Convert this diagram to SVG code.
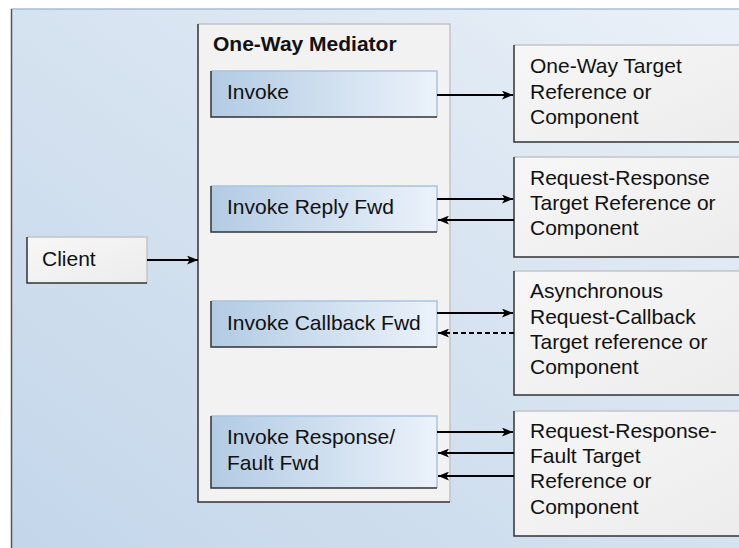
<svg xmlns="http://www.w3.org/2000/svg" width="739" height="548" viewBox="0 0 739 548">
<defs>
<linearGradient id="bg" x1="0" y1="1" x2="1" y2="0">
<stop offset="0" stop-color="#c3d6ea"/>
<stop offset="0.5" stop-color="#d5e2f0"/>
<stop offset="1" stop-color="#ebf1f8"/>
</linearGradient>
<linearGradient id="blue" x1="0" y1="0" x2="1" y2="0">
<stop offset="0" stop-color="#b2cbe4"/>
<stop offset="1" stop-color="#ebf2fa"/>
</linearGradient>
<linearGradient id="gray" x1="0" y1="0" x2="1" y2="1">
<stop offset="0" stop-color="#f7f7f7"/>
<stop offset="1" stop-color="#ececec"/>
</linearGradient>
<marker id="ah" viewBox="0 0 10 8" refX="10" refY="4" markerWidth="11" markerHeight="9" markerUnits="userSpaceOnUse" orient="auto">
<path d="M0,0 L10,4 L0,8 L2.5,4 Z" fill="#000"/>
</marker>
<style>
text{font-family:"Liberation Sans",Arial,sans-serif;font-size:21px;fill:#111}
.title{font-weight:bold}
.light{fill:none;stroke:#c4c4c4;stroke-width:1.5}
.lightb{fill:none;stroke:#a9c3df;stroke-width:1.5}
.dark{fill:none;stroke:#333;stroke-width:1.5}
.conn line{stroke:#000;stroke-width:1.8;marker-end:url(#ah)}
.dash{stroke-dasharray:5 3}
</style>
</defs>
<rect x="11" y="9" width="740" height="550" fill="url(#bg)"/>
<line x1="11" y1="9" x2="739" y2="9" stroke="#a9bdd3" stroke-width="1.5"/>
<line x1="11.5" y1="9" x2="11.5" y2="548" stroke="#555" stroke-width="1.5"/>

<g id="mediator">
<rect x="198" y="24" width="252" height="478" fill="#f2f2f2"/>
<path class="light" d="M198,24 H450 V502"/>
<path class="dark" d="M198,24 V502 H450"/>
<text class="title" x="213" y="51">One-Way Mediator</text>
</g>

<g id="invoke">
<rect x="211" y="71" width="226" height="46" fill="url(#blue)"/>
<path class="lightb" d="M211,71 H437 V117"/>
<path class="dark" d="M211,71 V117 H437"/>
<text x="227" y="99">Invoke</text>
</g>
<g id="invoke-reply">
<rect x="211" y="186" width="226" height="46" fill="url(#blue)"/>
<path class="lightb" d="M211,186 H437 V232"/>
<path class="dark" d="M211,186 V232 H437"/>
<text x="227" y="214">Invoke Reply Fwd</text>
</g>
<g id="invoke-callback">
<rect x="211" y="301" width="226" height="46" fill="url(#blue)"/>
<path class="lightb" d="M211,301 H437 V347"/>
<path class="dark" d="M211,301 V347 H437"/>
<text x="227" y="330">Invoke Callback Fwd</text>
</g>
<g id="invoke-response">
<rect x="211" y="416" width="226" height="72" fill="url(#blue)"/>
<path class="lightb" d="M211,416 H437 V488"/>
<path class="dark" d="M211,416 V488 H437"/>
<text x="227" y="444">Invoke Response/</text>
<text x="227" y="470">Fault Fwd</text>
</g>

<g id="client">
<rect x="27" y="237" width="120" height="46" fill="url(#gray)"/>
<path class="light" d="M27,237 H147 V283"/>
<path class="dark" d="M27,237 V283 H147" stroke="#555"/>
<text x="42" y="266">Client</text>
</g>

<g id="target1">
<rect x="514" y="45" width="240" height="97" fill="url(#gray)"/>
<path class="light" d="M514,45 H760"/>
<path class="dark" d="M514,45 V142 H760"/>
<text x="530" y="73">One-Way Target</text>
<text x="530" y="99">Reference or</text>
<text x="530" y="124">Component</text>
</g>
<g id="target2">
<rect x="514" y="157" width="240" height="100" fill="url(#gray)"/>
<path class="light" d="M514,157 H760"/>
<path class="dark" d="M514,157 V257 H760"/>
<text x="530" y="185">Request-Response</text>
<text x="530" y="210">Target Reference or</text>
<text x="530" y="235">Component</text>
</g>
<g id="target3">
<rect x="514" y="271" width="240" height="124" fill="url(#gray)"/>
<path class="light" d="M514,271 H760"/>
<path class="dark" d="M514,271 V395 H760"/>
<text x="530" y="298">Asynchronous</text>
<text x="530" y="324">Request-Callback</text>
<text x="530" y="349">Target reference or</text>
<text x="530" y="374">Component</text>
</g>
<g id="target4">
<rect x="514" y="411" width="240" height="125" fill="url(#gray)"/>
<path class="light" d="M514,411 H760"/>
<path class="dark" d="M514,411 V536 H760"/>
<text x="530" y="438">Request-Response-</text>
<text x="530" y="463">Fault Target</text>
<text x="530" y="488">Reference or</text>
<text x="530" y="514">Component</text>
</g>

<g id="connectors" class="conn">
<line x1="147" y1="260" x2="198" y2="260"/>
<line x1="437" y1="95" x2="513" y2="95"/>
<line x1="437" y1="199" x2="513" y2="199"/>
<line x1="514" y1="220" x2="438" y2="220"/>
<line x1="437" y1="313" x2="513" y2="313"/>
<line class="dash" x1="514" y1="333" x2="438" y2="333"/>
<line x1="437" y1="432" x2="513" y2="432"/>
<line x1="514" y1="453" x2="438" y2="453"/>
<line x1="514" y1="476" x2="438" y2="476"/>
</g>
</svg>
